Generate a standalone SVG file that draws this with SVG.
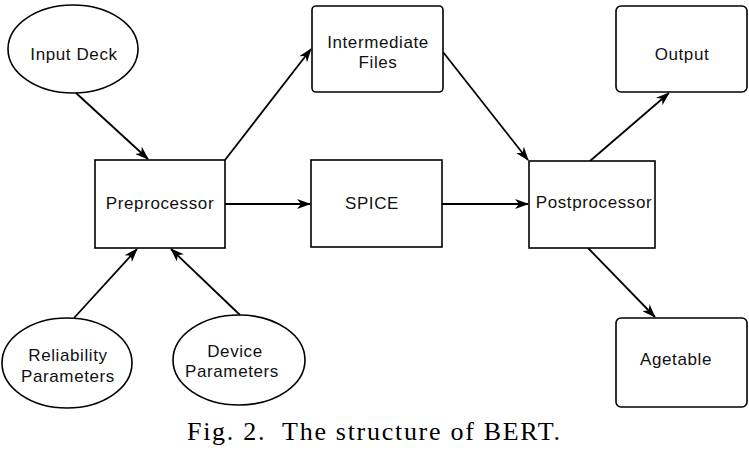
<svg xmlns="http://www.w3.org/2000/svg" width="749" height="457" viewBox="0 0 749 457">
<style>
.n{fill:#fff;stroke:#000;stroke-width:1.6}
.t{font-family:"Liberation Sans",Arial,sans-serif;font-size:17px;letter-spacing:0.6px;text-anchor:middle;fill:#111}
.c{stroke:#000;stroke-width:1.8;fill:none;marker-end:url(#ah)}
.cap{font-family:"Liberation Serif","Times New Roman",serif;font-size:26px;fill:#000;white-space:pre}
</style>
<defs>
<marker id="ah" viewBox="0 0 14 10" refX="13" refY="5" markerWidth="14" markerHeight="10" markerUnits="userSpaceOnUse" orient="auto">
<path d="M0,0 L14,5 L0,10 L4,5 Z" fill="#000"/>
</marker>
</defs>
<rect width="749" height="457" fill="#fff"/>
<g id="connectors">
<line class="c" x1="76" y1="93" x2="148" y2="159"/>
<line class="c" x1="225" y1="160" x2="311" y2="49"/>
<line class="c" x1="225" y1="204" x2="310" y2="204"/>
<line class="c" x1="74" y1="318" x2="137" y2="249"/>
<line class="c" x1="240" y1="315" x2="171" y2="249"/>
<line class="c" x1="443" y1="52" x2="528" y2="160"/>
<line class="c" x1="442" y1="204" x2="528" y2="204"/>
<line class="c" x1="590" y1="161" x2="669" y2="93"/>
<line class="c" x1="588" y1="248" x2="655" y2="317"/>
</g>
<g id="input-deck">
<ellipse class="n" cx="73" cy="49" rx="65" ry="44"/>
<text class="t" x="74" y="60">Input Deck</text>
</g>
<g id="preprocessor">
<rect class="n" x="95" y="160" width="130" height="88"/>
<text class="t" x="160" y="209">Preprocessor</text>
</g>
<g id="intermediate-files">
<rect class="n" x="312" y="6" width="131" height="86" rx="4"/>
<text class="t" x="378" y="48">Intermediate</text>
<text class="t" x="378" y="68">Files</text>
</g>
<g id="spice">
<rect class="n" x="311" y="160" width="131" height="87"/>
<text class="t" x="372" y="209">SPICE</text>
</g>
<g id="postprocessor">
<rect class="n" x="529" y="161" width="126" height="87"/>
<text class="t" x="594" y="208">Postprocessor</text>
</g>
<g id="output">
<rect class="n" x="616" y="6" width="131" height="86" rx="5"/>
<text class="t" x="682" y="60">Output</text>
</g>
<g id="agetable">
<rect class="n" x="616" y="318" width="131" height="89" rx="5"/>
<text class="t" x="676" y="365">Agetable</text>
</g>
<g id="reliability-parameters">
<ellipse class="n" cx="67" cy="363" rx="65" ry="45"/>
<text class="t" x="68" y="361">Reliability</text>
<text class="t" x="68" y="382">Parameters</text>
</g>
<g id="device-parameters">
<ellipse class="n" cx="239" cy="360" rx="66" ry="45"/>
<text class="t" x="235" y="357">Device</text>
<text class="t" x="232" y="377">Parameters</text>
</g>
<text class="cap" x="187" y="440" textLength="373" lengthAdjust="spacing" xml:space="preserve">Fig. 2.  The structure of BERT.</text>
</svg>
